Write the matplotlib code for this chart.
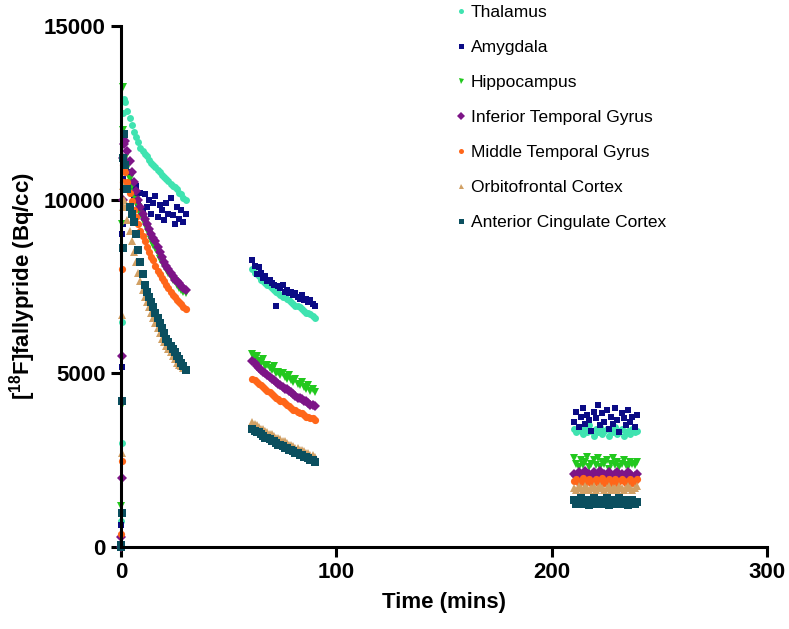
import matplotlib
matplotlib.use("Agg")
import matplotlib.pyplot as plt

plt.rcParams['font.family'] = ['Liberation Sans', 'DejaVu Sans']
plt.rcParams['mathtext.fontset'] = 'custom'
plt.rcParams['mathtext.rm'] = 'Liberation Sans:bold'
plt.rcParams['mathtext.bf'] = 'Liberation Sans:bold'

# ---- time frames (minutes) ----
t_early = [0.0, 0.1, 0.3, 0.5, 0.75, 1.0, 1.5]
t_p1 = [2, 3, 4, 5, 6, 7, 8, 9, 10, 11, 12, 13, 14, 15, 16, 17, 18, 19, 20,
        21, 22, 23, 24, 25, 26, 27, 28, 29, 30]
t_p2 = [61, 62, 63, 64, 65, 66, 67, 68, 69, 70, 71, 72, 73, 74, 75, 76, 77,
        78, 79, 80, 81, 82, 83, 84, 85, 86, 87, 88, 89, 90]
t_p3 = [210.5, 211.5, 212.5, 213.5, 214.5, 215.5, 216.5, 217.5, 218.5, 219.5,
        220.5, 221.5, 222.5, 223.5, 224.5, 225.5, 226.5, 227.5, 228.5, 229.5,
        230.5, 231.5, 232.5, 233.5, 234.5, 235.5, 236.5, 237.5, 238.5, 239.5]

# ---- region names / styles ----
regions = ['Thalamus', 'Amygdala', 'Hippocampus', 'Inferior Temporal Gyrus',
           'Middle Temporal Gyrus', 'Orbitofrontal Cortex',
           'Anterior Cingulate Cortex']
colors = ['#3fe3b0', '#0b0b85', '#22c81e', '#7d1487', '#ff6619', '#d1a064',
          '#0b4f5f']
markers = ['o', 's', 'v', 'D', 'o', '^', 's']

# ---- activity (Bq/cc) ----
thal_early = [0, 750, 2980, 6470, 11000, 12500, 12900]
thal_p1 = [12800, 12550, 12350, 12150, 11950, 11800, 11650, 11500, 11400, 11300,
           11250, 11150, 11050, 11000, 10950, 10850, 10800, 10700, 10650, 10600,
           10550, 10450, 10400, 10350, 10300, 10200, 10150, 10050, 10000]
thal_p2 = [8000, 7900, 7850, 7800, 7700, 7650, 7600, 7550, 7500, 7450, 7400,
           7350, 7300, 7250, 7200, 7200, 7150, 7100, 7050, 7000, 6950, 6950,
           6900, 6850, 6800, 6750, 6750, 6700, 6650, 6600]
thal_p3 = [3400, 3300, 3450, 3350, 3250, 3400, 3300, 3500, 3350, 3200, 3400,
           3300, 3450, 3250, 3350, 3400, 3200, 3350, 3300, 3450, 3250, 3350,
           3400, 3200, 3300, 3350, 3250, 3400, 3300, 3350]

amyg_early = [0, 620, 5190, 9000, 9300, 10600, 11200]
amyg_p1 = [11000, 10800, 10500, 10300, 10100, 10400, 9900, 10200, 9700, 10150,
           9800, 10000, 9600, 9900, 10100, 9500, 9850, 9700, 9400, 9900, 9600,
           10050, 9550, 9300, 9800, 9450, 9700, 9350, 9600]
amyg_p2 = [8250, 8100, 7850, 8050, 7900, 7750, 7800, 7650, 7700, 7600, 7550,
           6950, 7500, 7450, 7550, 7350, 7400, 7300, 7350, 7250, 7300, 7200,
           7150, 7250, 7100, 7150, 7050, 7100, 7000, 6950]
amyg_p3 = [3600, 3900, 3450, 3750, 4000, 3550, 3800, 3650, 3350, 3900, 3700,
           4100, 3500, 3850, 3600, 3950, 3400, 3750, 3550, 4000, 3650, 3300,
           3850, 3700, 3500, 3950, 3600, 3750, 3450, 3800]

hipp_early = [0, 1180, 4100, 9300, 13250, 12000, 11600]
hipp_p1 = [11200, 10900, 10600, 10400, 10200, 10000, 9800, 9600, 9450, 9300,
           9150, 9000, 8850, 8700, 8600, 8450, 8300, 8200, 8100, 8000, 7900,
           7800, 7700, 7650, 7550, 7450, 7400, 7350, 7300]
hipp_p2 = [5550, 5450, 5500, 5350, 5300, 5400, 5200, 5250, 5150, 5100, 5200,
           5000, 5050, 4950, 5000, 4900, 4850, 4950, 4800, 4750, 4850, 4700,
           4650, 4750, 4600, 4550, 4650, 4500, 4550, 4450]
hipp_p3 = [2550, 2400, 2300, 2500, 2350, 2450, 2600, 2300, 2400, 2500, 2350,
           2550, 2300, 2450, 2400, 2500, 2250, 2400, 2550, 2350, 2450, 2300,
           2400, 2500, 2350, 2300, 2450, 2400, 2350, 2450]

itg_early = [0, 300, 2000, 5500, 10000, 11200, 11600]
itg_p1 = [11700, 11400, 11100, 10800, 10500, 10250, 10000, 9800, 9600, 9450,
          9300, 9150, 9000, 8900, 8800, 8650, 8500, 8350, 8200, 8100, 8000,
          7900, 7800, 7700, 7650, 7600, 7500, 7450, 7400]
itg_p2 = [5350, 5300, 5200, 5150, 5100, 5050, 5000, 4950, 4900, 4850, 4800,
          4750, 4700, 4650, 4600, 4550, 4550, 4500, 4450, 4400, 4350, 4300,
          4300, 4250, 4200, 4200, 4150, 4100, 4100, 4050]
itg_p3 = [2100, 2050, 2150, 2000, 2100, 2200, 2050, 2100, 2000, 2150, 2050,
          2100, 2200, 2000, 2100, 2050, 2150, 2050, 2000, 2100, 2150, 2050,
          2100, 2000, 2050, 2150, 2100, 2000, 2050, 2100]

mtg_early = [0, 360, 2470, 8000, 10500, 11000, 10900]
mtg_p1 = [10800, 10500, 10200, 9950, 9700, 9500, 9300, 9100, 8950, 8800, 8650,
          8500, 8350, 8250, 8100, 7950, 7850, 7750, 7650, 7550, 7450, 7350,
          7250, 7200, 7100, 7050, 7000, 6900, 6850]
mtg_p2 = [4850, 4800, 4750, 4700, 4650, 4600, 4550, 4500, 4450, 4400, 4350,
          4300, 4250, 4200, 4200, 4150, 4100, 4050, 4000, 3950, 3950, 3900,
          3850, 3850, 3800, 3750, 3750, 3700, 3700, 3650]
mtg_p3 = [1900, 1950, 1850, 1900, 2000, 1850, 1900, 1950, 1850, 1900, 1950,
          1850, 1900, 2000, 1850, 1900, 1950, 1850, 1900, 1950, 1850, 1900,
          1950, 1900, 1850, 1900, 1950, 1850, 1900, 1950]

ofc_early = [0, 100, 2720, 6680, 9800, 10400, 10000]
ofc_p1 = [9800, 9400, 9100, 8800, 8500, 8200, 7900, 7650, 7400, 7200, 7050,
          6900, 6750, 6600, 6450, 6300, 6150, 6000, 5900, 5800, 5700, 5600,
          5500, 5400, 5300, 5250, 5200, 5150, 5100]
ofc_p2 = [3600, 3550, 3500, 3450, 3400, 3400, 3350, 3300, 3250, 3250, 3200,
          3150, 3150, 3100, 3050, 3050, 3000, 2950, 2950, 2900, 2850, 2850,
          2800, 2800, 2750, 2700, 2700, 2650, 2650, 2600]
ofc_p3 = [1700, 1650, 1750, 1700, 1650, 1750, 1700, 1650, 1700, 1750, 1650,
          1700, 1750, 1700, 1650, 1700, 1750, 1650, 1700, 1700, 1650, 1750,
          1700, 1650, 1700, 1750, 1700, 1650, 1700, 1750]

acc_early = [0, 50, 980, 4210, 8600, 11200, 11900]
acc_p1 = [11000, 10300, 9800, 9600, 9350, 9000, 8550, 8200, 7850, 7550, 7350,
          7200, 7050, 6900, 6750, 6600, 6450, 6300, 6150, 6000, 5900, 5800,
          5700, 5600, 5500, 5400, 5300, 5200, 5100]
acc_p2 = [3400, 3350, 3300, 3300, 3250, 3200, 3150, 3150, 3100, 3050, 3050,
          3000, 2950, 2950, 2900, 2850, 2850, 2800, 2800, 2750, 2700, 2700,
          2650, 2650, 2600, 2600, 2550, 2500, 2500, 2450]
acc_p3 = [1350, 1250, 1300, 1400, 1250, 1300, 1350, 1200, 1300, 1400, 1250,
          1300, 1350, 1250, 1300, 1400, 1200, 1300, 1350, 1250, 1300, 1400,
          1250, 1300, 1350, 1200, 1300, 1350, 1250, 1300]

series = [
    (thal_early, thal_p1, thal_p2, thal_p3),
    (amyg_early, amyg_p1, amyg_p2, amyg_p3),
    (hipp_early, hipp_p1, hipp_p2, hipp_p3),
    (itg_early, itg_p1, itg_p2, itg_p3),
    (mtg_early, mtg_p1, mtg_p2, mtg_p3),
    (ofc_early, ofc_p1, ofc_p2, ofc_p3),
    (acc_early, acc_p1, acc_p2, acc_p3),
]

times = t_early + t_p1 + t_p2 + t_p3

fig = plt.figure(figsize=(7.89, 6.29), dpi=100)
ax = fig.add_axes([0.1534, 0.1304, 0.8186, 0.8283])

msizes = [5.0, 5.0, 5.6, 4.8, 5.2, 5.4, 5.2]
for name, col, mk, ms, parts in zip(regions, colors, markers, msizes, series):
    vals = parts[0] + parts[1] + parts[2] + parts[3]
    ax.plot(times, vals, linestyle='none', marker=mk, color=col,
            markersize=ms, markeredgewidth=0, label=name, clip_on=False)

ax.set_xlim(0, 300)
ax.set_ylim(0, 15000)
ax.set_xticks([0, 100, 200, 300])
ax.set_yticks([0, 5000, 10000, 15000])
for s in ['top', 'right']:
    ax.spines[s].set_visible(False)
for s in ['left', 'bottom']:
    ax.spines[s].set_linewidth(2.2)
ax.tick_params(axis='both', direction='out', length=7, width=2.2,
               labelsize=16, pad=4)
for lab in ax.get_xticklabels() + ax.get_yticklabels():
    lab.set_fontweight('bold')

ax.set_xlabel('Time (mins)', fontsize=16, fontweight='bold', labelpad=6)
ax.set_ylabel(r'[$^{18}$F]fallypride (Bq/cc)', fontsize=16,
              fontweight='bold', labelpad=4)

leg = ax.legend(loc='upper left', bbox_to_anchor=(0.569, 1.006),
                bbox_transform=fig.transFigure, frameon=False,
                fontsize=12.5, handlelength=0.4,
                handletextpad=0.35, labelspacing=1.14, borderpad=0.0)
for h in leg.legend_handles:
    h.set_markersize(3.6)

fig.savefig('out.png', dpi=100)
